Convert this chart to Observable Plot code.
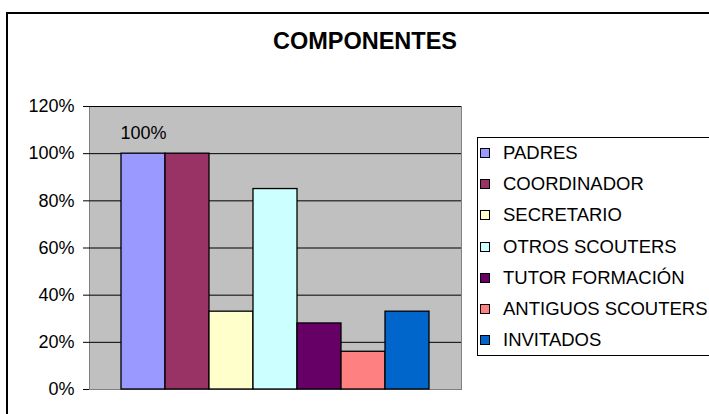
<!DOCTYPE html>
<html>
<head>
<meta charset="utf-8">
<script src="https://cdn.jsdelivr.net/npm/d3@7"></script>
<script src="https://cdn.jsdelivr.net/npm/@observablehq/plot@0.6"></script>
<style>
  html, body { margin: 0; padding: 0; background: white; }
  #wrap { position: relative; width: 709px; height: 414px; overflow: hidden; background: white;
          font-family: "Liberation Sans", Arial, sans-serif; color: black; }
  #wrap svg { position: absolute; left: 0; top: 0; }
  #border { position: absolute; left: 6px; top: 12px; width: 800px; height: 500px; border: 2px solid black; box-sizing: border-box; }
  #title { position: absolute; left: 0; width: 730px; top: 29px; text-align: center; font-weight: bold; font-size: 23.5px; line-height: 24px; }
  #legend { position: absolute; left: 477px; top: 137px; width: 260px; height: 219px; border: 1px solid black; box-sizing: border-box; background: white; }
  .item { position: absolute; left: 2px; height: 20px; display: flex; align-items: center; font-size: 18.5px; line-height: 20px; white-space: nowrap; }
  .sw { width: 8px; height: 8px; border: 1px solid black; margin-right: 13px; flex: none; }
</style>
</head>
<body>
<div id="wrap">
  <div id="border"></div>
  <div id="title"></div>
  <div id="legend"></div>
</div>
<script>
const title = "COMPONENTES";
const categories = ["PADRES", "COORDINADOR", "SECRETARIO", "OTROS SCOUTERS", "TUTOR FORMACIÓN", "ANTIGUOS SCOUTERS", "INVITADOS"];
const values = [1.00, 1.00, 0.33, 0.85, 0.28, 0.16, 0.33];
const colors = ["#9999FF", "#993366", "#FFFFCC", "#CCFFFF", "#660066", "#FF8080", "#0066CC"];
const yTicks = [0, 0.2, 0.4, 0.6, 0.8, 1.0, 1.2];
const labelled = ["PADRES"];

const pct = d3.format(".0%");
const data = categories.map((c, i) => ({cat: c, value: values[i]}));

const chart = Plot.plot({
  width: 709,
  height: 414,
  marginLeft: 89,
  marginRight: 248,
  marginTop: 106,
  marginBottom: 25,
  style: {fontFamily: "'Liberation Sans', Arial, sans-serif", fontSize: "18px", color: "black", background: "transparent", overflow: "visible"},
  x: {domain: categories, paddingInner: 0, paddingOuter: 0.727, axis: null},
  y: {domain: [0, 1.2], axis: null},
  color: {domain: categories, range: colors},
  marks: [
    Plot.frame({fill: "#c0c0c0", stroke: "#808080"}),
    Plot.ruleY(yTicks.slice(1), {stroke: "black", strokeWidth: 1}),
    Plot.barY(data, {x: "cat", y: "value", fill: "cat", stroke: "black", strokeWidth: 1.3}),
    Plot.text(data.filter(d => labelled.includes(d.cat)), {x: "cat", y: "value", text: d => pct(d.value), dy: -20, fontSize: 18, fill: "black"}),
    Plot.axisY({ticks: yTicks, tickFormat: pct, tickSize: 6, tickPadding: 9, fontSize: 18, label: null, stroke: "black", fill: "black"})
  ]
});
document.getElementById("wrap").insertBefore(chart, document.getElementById("border"));

document.getElementById("title").textContent = title;
const legend = document.getElementById("legend");
categories.forEach((c, i) => {
  const it = document.createElement("div");
  it.className = "item";
  it.style.top = (152 + i * 31.2 - 137 - 10) + "px";
  const sw = document.createElement("div");
  sw.className = "sw";
  sw.style.background = colors[i];
  it.appendChild(sw);
  it.appendChild(document.createTextNode(c));
  legend.appendChild(it);
});
</script>
</body>
</html>
